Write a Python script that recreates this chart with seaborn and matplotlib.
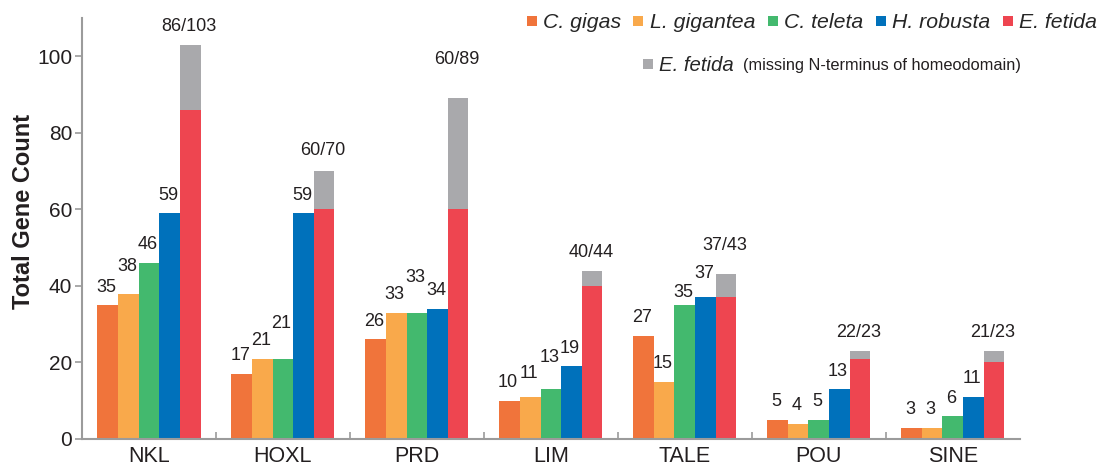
import numpy as np
import pandas as pd
import matplotlib
matplotlib.use("Agg")
import matplotlib.pyplot as plt
from matplotlib.lines import Line2D
import seaborn as sns

# ---------------- data ----------------
families = ["NKL", "HOXL", "PRD", "LIM", "TALE", "POU", "SINE"]
species = ["C. gigas", "L. gigantea", "C. teleta", "H. robusta", "E. fetida"]
c_gigas = [35, 17, 26, 10, 27, 5, 3]
l_gigantea = [38, 21, 33, 11, 15, 4, 3]
c_teleta = [46, 21, 33, 13, 35, 5, 6]
h_robusta = [59, 59, 34, 19, 37, 13, 11]
e_fetida = [86, 60, 60, 40, 37, 21, 20]
e_fetida_total = [103, 70, 89, 44, 43, 23, 23]
e_fetida_labels = ["86/103", "60/70", "60/89", "40/44", "37/43", "22/23", "21/23"]
yticks = [0, 20, 40, 60, 80, 100]

colors = ["#F0743B", "#F9A94B", "#43B96E", "#0071BB", "#EE4550"]
grey = "#A9A9AC"
axis_grey = "#9B9B9B"
text_col = "#231F20"

# ---------------- style ----------------
sns.set_style("white")
plt.rcParams["font.family"] = ["Liberation Sans", "DejaVu Sans"]

series = [c_gigas, l_gigantea, c_teleta, h_robusta, e_fetida]
df = pd.DataFrame({
    "family": np.tile(families, len(species)),
    "species": np.repeat(species, len(families)),
    "count": np.concatenate(series),
})

fig = plt.figure(figsize=(11, 4.69), dpi=100)
ax = fig.add_axes([0.0745, 0.064, 0.8525, 0.8976])

sns.barplot(data=df, x="family", y="count", hue="species", order=families,
            hue_order=species, palette=colors, width=0.77, saturation=1,
            legend=False, ax=ax, errorbar=None, linewidth=0, edgecolor="none")

# grey extension (missing N-terminus) stacked on E. fetida bars
red_bars = ax.containers[4]
for j, p in enumerate(red_bars.patches):
    extra = e_fetida_total[j] - e_fetida[j]
    ax.bar(p.get_x() + p.get_width() / 2, extra, bottom=e_fetida[j],
           width=p.get_width(), color=grey, linewidth=0)

# value labels with small manual nudges (pixels) to mimic the staggering
nudge = {
    (0, 1): 9, (1, 2): 17, (1, 4): 3, (2, 2): 17, (2, 4): 21,
    (3, 1): 5, (3, 2): 14, (4, 2): -5, (4, 3): 6, (4, 4): 11,
}
px2pt = 72 / 100
for i in range(5):
    for j, p in enumerate(ax.containers[i].patches):
        xc = p.get_x() + p.get_width() / 2
        if i == 4:
            top = e_fetida_total[j]
            lab = e_fetida_labels[j]
        else:
            top = series[i][j]
            lab = str(series[i][j])
        off = (18 + nudge.get((j, i), 0)) * px2pt
        ax.annotate(lab, (xc, top), xytext=(-1, off), textcoords="offset points",
                    ha="center", va="center", fontsize=13, color=text_col)

# axes styling
ax.set_xlim(-0.5, len(families) - 0.5)
ax.set_ylim(0, 110)
ax.set_yticks(yticks)
ax.set_xlabel("")
ax.set_ylabel("Total Gene Count", fontsize=17, fontweight="bold", color=text_col)
ax.yaxis.set_label_coords(-0.050, 0.54)
for s in ["top", "right"]:
    ax.spines[s].set_visible(False)
for s in ["left", "bottom"]:
    ax.spines[s].set_color(axis_grey)
    ax.spines[s].set_linewidth(1.5)
ax.tick_params(axis="y", direction="out", length=5, width=1.2, color=axis_grey,
               labelsize=15, labelcolor=text_col, pad=2, left=True)
ax.tick_params(axis="x", which="major", length=0, labelsize=15.5,
               labelcolor=text_col, pad=5)
ax.set_xticks(np.arange(len(families) - 1) + 0.5, minor=True)
ax.tick_params(axis="x", which="minor", direction="in", length=5, width=1.2,
               color=axis_grey, bottom=True)

# legends
handles = [Line2D([], [], marker="s", linestyle="none", markersize=7.9,
                  markerfacecolor=c, markeredgewidth=0) for c in colors]
leg1 = fig.legend(handles, species, ncol=5, loc="center right",
                  bbox_to_anchor=(0.997, 0.951), frameon=False,
                  prop={"size": 15.3, "style": "italic"}, handletextpad=0.25,
                  columnspacing=0.55, handlelength=0.55, borderpad=0,
                  borderaxespad=0)
gh = [Line2D([], [], marker="s", linestyle="none", markersize=7.9,
             markerfacecolor=grey, markeredgewidth=0)]
leg2 = fig.legend(gh, ["E. fetida"], loc="center left",
                  bbox_to_anchor=(0.584, 0.861), frameon=False,
                  prop={"size": 14.7, "style": "italic"}, handletextpad=0.25,
                  handlelength=0.55, borderpad=0, borderaxespad=0)
fig.canvas.draw()
bb = leg2.get_texts()[0].get_window_extent()
fig.text(bb.x1 / fig.bbox.width + 0.009, (bb.y0 + bb.y1) / 2 / fig.bbox.height,
         "(missing N-terminus of homeodomain)", fontsize=11.8, color=text_col,
         va="center", ha="left")

fig.savefig("out.png", dpi=100)
